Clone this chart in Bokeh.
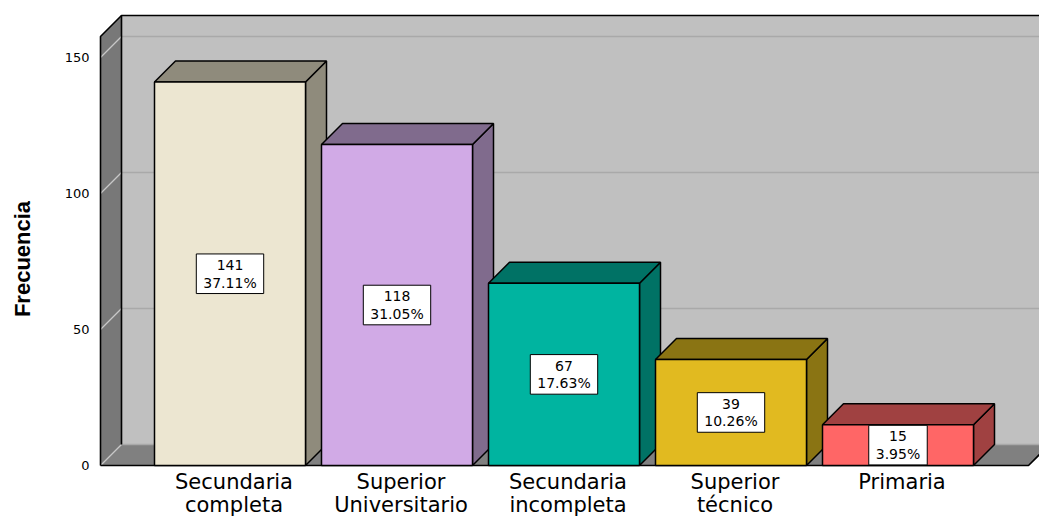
from bokeh.plotting import figure
from bokeh.models import FixedTicker, Range1d
from bokeh.embed import file_html
from bokeh.resources import INLINE
from bokeh.core.properties import value

# ---- data ----
categories = ["Secundaria\ncompleta", "Superior\nUniversitario", "Secundaria\nincompleta",
              "Superior\ntécnico", "Primaria"]
frecuencia = [141, 118, 67, 39, 15]
porcentaje = [37.11, 31.05, 17.63, 10.26, 3.95]
y_ticks = [0, 50, 100, 150]
front_colors = ["#ECE6D1", "#D1AAE6", "#00B4A0", "#E1BA20", "#FF6666"]
side_colors = ["#8F8B7C", "#806B8D", "#007265", "#8A7413", "#A04141"]

# ---- geometry (pixel scale of the reference) ----
W, H = 1039, 517
PX_X = 167.0          # px per category
PX_Y = 2.72           # px per unit of frequency
X_C0 = 229.5          # screen x of first category centre
Y_0 = 465             # screen y of frequency 0
DX = 21 / PX_X        # 3D depth, x
DY = 21 / PX_Y        # 3D depth, y
BAR_W = 151 / PX_X
FRAME_LEFT_PX = 98
WALL_L = (100 - X_C0) / PX_X
FRAME_L = (FRAME_LEFT_PX - X_C0) / PX_X
FRAME_R = (W - X_C0) / PX_X
FLOOR_R = (1028 - X_C0) / PX_X
WALL_TOP = (Y_0 - 15) / PX_Y
FRAME_T = Y_0 / PX_Y
FRAME_B = -(H - Y_0) / PX_Y
LABEL_DX = 4 / PX_X
LABEL_Y = -4 / PX_Y

p = figure(width=W, height=H,
           x_range=Range1d(FRAME_L, FRAME_R), y_range=Range1d(FRAME_B, FRAME_T),
           output_backend="svg", toolbar_location=None, x_axis_location=None,
           min_border_left=FRAME_LEFT_PX, min_border_right=0, min_border_top=0,
           min_border_bottom=0)
p.outline_line_color = None
p.xgrid.visible = False
p.ygrid.visible = False
p.background_fill_color = "white"

# back wall
p.quad(left=WALL_L + DX, right=FRAME_R + 1, bottom=DY, top=WALL_TOP,
       fill_color="#C0C0C0", line_color=None)
# floor
p.patch([WALL_L, WALL_L + DX, FLOOR_R + DX, FLOOR_R], [0, DY, DY, 0],
        fill_color="#808080", line_color=None)
# left wall
p.patch([WALL_L, WALL_L + DX, WALL_L + DX, WALL_L], [0, DY, WALL_TOP, WALL_TOP - DY],
        fill_color="#787878", line_color=None)

# gridlines
p.multi_line([[WALL_L + DX, FRAME_R] for v in y_ticks], [[v + DY, v + DY] for v in y_ticks],
             line_color="#A9A9A9", line_width=1.5)
p.multi_line([[WALL_L, WALL_L + DX] for v in y_ticks], [[v, v + DY] for v in y_ticks],
             line_color="#C8C8C8", line_width=1.2)

# wall outlines
p.multi_line([[WALL_L, WALL_L, WALL_L + DX, FRAME_R + 1],
              [WALL_L + DX, WALL_L + DX],
              [WALL_L, FLOOR_R, FLOOR_R + DX]],
             [[0, WALL_TOP - DY, WALL_TOP, WALL_TOP],
              [DY, WALL_TOP],
              [0, 0, DY]],
             line_color="black", line_width=1.6)

# 3D bars
idx = list(range(len(categories)))
side_xs, side_ys, top_xs, top_ys = [], [], [], []
for i, v in zip(idx, frecuencia):
    x0, x1 = i - BAR_W / 2, i + BAR_W / 2
    side_xs.append([x1, x1 + DX, x1 + DX, x1])
    side_ys.append([0, DY, v + DY, v])
    top_xs.append([x0, x0 + DX, x1 + DX, x1])
    top_ys.append([v, v + DY, v + DY, v])
p.patches(side_xs, side_ys, fill_color=side_colors, line_color="black", line_width=1.5)
p.patches(top_xs, top_ys, fill_color=side_colors, line_color="black", line_width=1.5)
p.vbar(x=idx, top=frecuencia, bottom=0, width=BAR_W, fill_color=front_colors,
       line_color="black", line_width=1.5)

# value labels
labels = [f"{v}\n{pc:.2f}%" for v, pc in zip(frecuencia, porcentaje)]
p.text(x=idx, y=[v / 2 for v in frecuencia], text=labels,
       text_font=value("DejaVu Sans"), text_font_size="14px", text_color="black",
       text_align="center", text_baseline="middle", text_line_height=1.1,
       background_fill_color="white", border_line_color="black", border_line_width=1,
       padding=(7, 3))

# category labels under the floor
p.text(x=[i + LABEL_DX for i in idx], y=[LABEL_Y] * len(idx), text=categories,
       text_font=value("DejaVu Sans"), text_font_size="21px", text_color="black",
       text_align="center", text_baseline="top", text_line_height=0.98)

# y axis
ya = p.yaxis[0]
ya.ticker = FixedTicker(ticks=y_ticks)
ya.axis_line_color = None
ya.major_tick_line_color = None
ya.minor_tick_line_color = None
ya.major_tick_out = 0
ya.major_label_standoff = 9
ya.major_label_text_font = "DejaVu Sans"
ya.major_label_text_font_size = "13px"
ya.major_label_text_color = "black"
ya.axis_label = "Frecuencia"
ya.axis_label_text_font = "Liberation Sans"
ya.axis_label_text_font_style = "bold"
ya.axis_label_text_font_size = "22px"
ya.axis_label_text_color = "black"
ya.axis_label_standoff = 27

open("out.html", "w").write(file_html(p, INLINE))
